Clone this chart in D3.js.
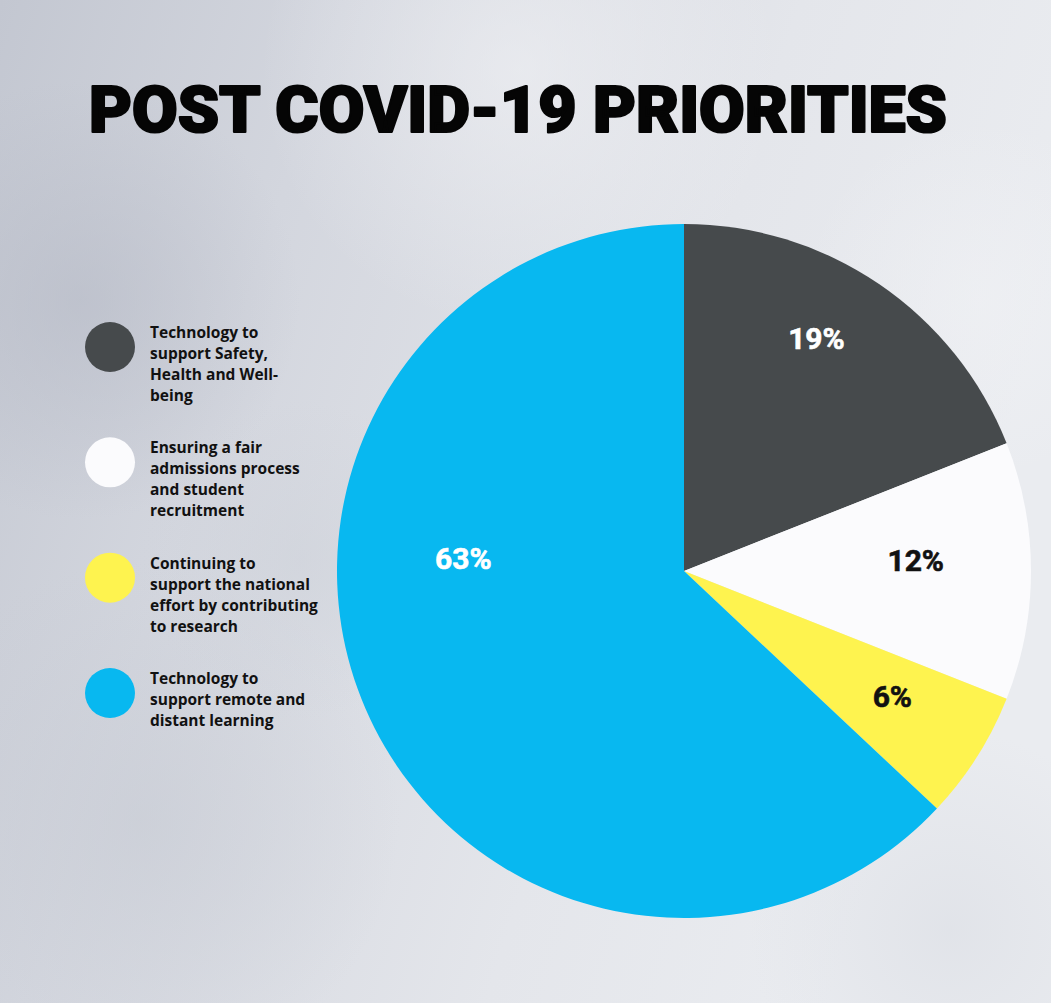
<!DOCTYPE html>
<html>
<head>
<meta charset="utf-8">
<script src="https://cdn.jsdelivr.net/npm/d3@7"></script>
<style>
  html, body { margin: 0; padding: 0; background: #e3e5ea; }
  svg { display: block; }
</style>
</head>
<body>
<svg id="chart" width="1051" height="1003"></svg>
<script>
const title = "POST COVID-19 PRIORITIES";
const categories = [
  ["Technology to", "support Safety,", "Health and Well-", "being"],
  ["Ensuring a fair", "admissions process", "and student", "recruitment"],
  ["Continuing to", "support the national", "effort by contributing", "to research"],
  ["Technology to", "support remote and", "distant learning"]
];
const values = [19, 12, 6, 63];
const colors = ["#464a4c", "#fbfbfd", "#fef34f", "#08b8f0"];
const labelColors = ["#ffffff", "#111111", "#111111", "#ffffff"];

const W = 1051, H = 1003;
const svg = d3.select("#chart");
const defs = svg.append("defs");

// background
const lg = defs.append("linearGradient").attr("id", "bg").attr("x1", "0").attr("y1", "0").attr("x2", "1").attr("y2", "0.3");
lg.append("stop").attr("offset", "0").attr("stop-color", "#c3c7d1");
lg.append("stop").attr("offset", "0.3").attr("stop-color", "#d3d6de");
lg.append("stop").attr("offset", "0.7").attr("stop-color", "#e4e6eb");
lg.append("stop").attr("offset", "1").attr("stop-color", "#eaecf0");
svg.append("rect").attr("width", W).attr("height", H).attr("fill", "url(#bg)");
const blobs = [[80, 300, 220, "#b6bac6", 0.6], [140, 820, 260, "#c6cad3", 0.55], [520, 70, 260, "#f1f2f5", 0.6], [980, 300, 180, "#f2f3f6", 0.5], [950, 930, 200, "#d8dbe2", 0.5], [300, 560, 160, "#cdd1d9", 0.5]];
blobs.forEach((b, i) => {
  const rg = defs.append("radialGradient").attr("id", "blob" + i);
  rg.append("stop").attr("offset", "0").attr("stop-color", b[3]).attr("stop-opacity", b[4]);
  rg.append("stop").attr("offset", "1").attr("stop-color", b[3]).attr("stop-opacity", 0);
  svg.append("circle").attr("cx", b[0]).attr("cy", b[1]).attr("r", b[2]).attr("fill", `url(#blob${i})`);
});

// title
svg.append("text")
  .attr("x", 89).attr("y", 132)
  .attr("textLength", 858).attr("lengthAdjust", "spacingAndGlyphs")
  .style("font-family", "Roboto, 'DejaVu Sans', sans-serif")
  .style("font-weight", 900).style("font-size", "65px")
  .attr("fill", "#050505").attr("stroke", "#050505").attr("stroke-width", 2.2)
  .attr("stroke-linejoin", "round")
  .text(title);

// pie
const cx = 684, cy = 571, R = 347;
const pie = d3.pie().sort(null).value(d => d)(values);
const arc = d3.arc().innerRadius(0).outerRadius(R);
const g = svg.append("g").attr("transform", `translate(${cx},${cy})`);
g.selectAll("path").data(pie).join("path")
  .attr("d", arc).attr("fill", (d, i) => colors[i]);

// labels: placed near slice bisector, largest slice label moved to the horizontal
const labelR = [268, 232, 243, 221];
const labelShift = [-0.08, -0.047, -0.025, 0];
g.selectAll("text.lbl").data(pie).join("text")
  .attr("class", "lbl")
  .each(function (d, i) {
    let a = (d.startAngle + d.endAngle) / 2 + labelShift[i];
    if (i === 3) a = 1.5 * Math.PI + 0.06;
    const r = labelR[i];
    d3.select(this).attr("x", r * Math.sin(a)).attr("y", -r * Math.cos(a));
  })
  .attr("text-anchor", "middle").attr("dy", "0.36em")
  .style("font-family", "Roboto, sans-serif").style("font-weight", 700).style("font-size", "30px")
  .attr("fill", (d, i) => labelColors[i])
  .attr("stroke", (d, i) => labelColors[i]).attr("stroke-width", 0.6)
  .text(d => d.data + "%");

// legend
const legY = d3.scalePoint().domain(d3.range(categories.length)).range([347, 693]);
const leg = svg.append("g");
categories.forEach((lines, i) => {
  const y = legY(i);
  leg.append("circle").attr("cx", 110).attr("cy", y).attr("r", 25).attr("fill", colors[i]);
  const t = leg.append("text")
    .attr("x", 150)
    .style("font-family", "'Open Sans', sans-serif").style("font-weight", 700).style("font-size", "15.5px")
    .attr("fill", "#111");
  const top = y - 9;
  lines.forEach((ln, j) => {
    t.append("tspan").attr("x", 150).attr("y", top + j * 21).text(ln);
  });
});
</script>
</body>
</html>
